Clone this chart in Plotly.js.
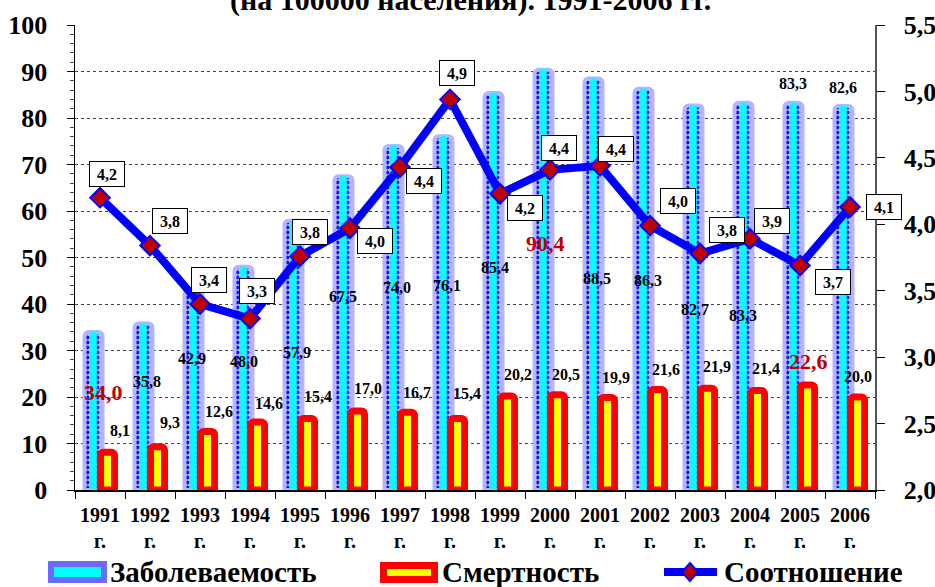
<!DOCTYPE html>
<html><head><meta charset="utf-8">
<script src="https://cdn.plot.ly/plotly-3.0.1.min.js"></script>
<style>html,body{margin:0;padding:0;background:#fff}</style>
</head><body><div id="chart" style="width:935px;height:587px"></div>
<script>
// ---- data ----
const years = ['1991','1992','1993','1994','1995','1996','1997','1998','1999','2000','2001','2002','2003','2004','2005','2006'];
const tickLabels = years.map(y => y + '<br>г.');
const incidence = [34.0,35.8,42.9,48.0,57.9,67.5,74.0,76.1,85.4,90.4,88.5,86.3,82.7,83.3,83.3,82.6];
const mortality = [8.1,9.3,12.6,14.6,15.4,17.0,16.7,15.4,20.2,20.5,19.9,21.6,21.9,21.4,22.6,20.0];
const ratio = [4.20,3.84,3.40,3.29,3.76,3.97,4.43,4.94,4.23,4.41,4.44,3.99,3.78,3.89,3.69,4.13];
const seriesNames = ['Заболеваемость','Смертность','Соотношение'];
const titleText = '(на 100000 населения). 1991-2006 гг.';
const highlightInc = ['1991','2000'];
const highlightMort = ['2005'];

// ---- label placement (pixel offsets from the mark) ----
const incDx = [3,-3,-8,-6,-3,-7,-3,-3,-5,-5,-3,-2,-5,-7,-7,-7];
const incDy = [61,58,68,95,132,120,142,149,175,174,200,192,204,213,-19,-18];
const mortDx = [20,20,19,19,18,18,17,17,18,16,16,16,17,16,8,8];
const mortDy = [-22,-24,-20,-19,-22,-22,-20,-25,-22,-20,-20,-20,-22,-22,-23,-21];
const ratDx = [7,20,9,7,10,25,24,7,25,9,16,28,27,22,33,34];
const ratDy = [-24,-25,-24,-28,-24,13,14,-26,14,-22,-17,-25,-24,-18,17,0];

const fmt = v => (Math.round(v*10)/10).toFixed(1).replace('.', ',');
const FONT = 'Liberation Serif, Times New Roman, serif';

const traces = [
  {type:'bar', x:years, y:incidence, name:seriesNames[0], width:0.36, offset:-0.31,
   marker:{color:'#c4c4ff', cornerradius:4, line:{width:4, color:'#b4b4ff'},
     pattern:{shape:'.', fgcolor:'#1010ff', bgcolor:'#c4c4ff', size:5, solidity:0.45, fillmode:'replace'}},
   hoverinfo:'skip'},
  {type:'bar', x:years, y:incidence, name:seriesNames[0]+' core', width:0.13, offset:-0.195,
   marker:{color:'#00ffff', line:{width:0}}, hoverinfo:'skip'},
  {type:'bar', x:years, y:mortality, name:seriesNames[1], width:0.28, offset:0.01,
   marker:{color:'#ffff00', cornerradius:3, line:{color:'#ff0000', width:7}}, hoverinfo:'skip'},
  {type:'scatter', mode:'lines+markers', x:years, y:ratio, yaxis:'y2', name:seriesNames[2],
   line:{color:'#0000ff', width:8},
   marker:{symbol:'diamond', size:15, color:'#c00000', line:{color:'#0000ff', width:2}}, hoverinfo:'skip'}
];

const annotations = [];
years.forEach((yr, i) => {
  const incRed = highlightInc.includes(yr);
  annotations.push({x:i, y:incidence[i], xref:'x', yref:'y', text:fmt(incidence[i]), showarrow:false,
    xshift:incDx[i], yshift:-incDy[i], xanchor:'center', yanchor:'middle',
    font:{family:FONT, size:incRed?22:16, weight:'bold', color:incRed?'#c00000':'#000'}});
  const mRed = highlightMort.includes(yr);
  annotations.push({x:i, y:mortality[i], xref:'x', yref:'y', text:fmt(mortality[i]), showarrow:false,
    xshift:mortDx[i], yshift:-mortDy[i], xanchor:'center', yanchor:'middle',
    font:{family:FONT, size:mRed?22:16, weight:'bold', color:mRed?'#c00000':'#000'}});
  annotations.push({x:i, y:ratio[i], xref:'x', yref:'y2', text:fmt(ratio[i]), showarrow:false,
    xshift:ratDx[i], yshift:-ratDy[i], xanchor:'center', yanchor:'middle',
    width:30, height:20, borderpad:2, bordercolor:'#000', borderwidth:1, bgcolor:'#fff',
    font:{family:FONT, size:16, weight:'bold', color:'#000'}});
});

// pixel -> paper helpers for the hand-drawn legend and title
const PX = p => (p - 75) / 800;
const PY = p => (490 - p) / 465;

annotations.push({xref:'paper', yref:'paper', x:PX(470), y:PY(19), xanchor:'center', yanchor:'bottom',
  text:titleText, showarrow:false, font:{family:FONT, size:30, weight:'bold', color:'#000'}});

const legendText = [[108, seriesNames[0]], [440, seriesNames[1]], [722, seriesNames[2]]];
legendText.forEach(([px, t]) => annotations.push({xref:'paper', yref:'paper', x:PX(px), y:PY(572),
  xanchor:'left', yanchor:'middle', text:t, showarrow:false,
  font:{family:FONT, size:29, weight:'bold', color:'#000'}}));

const shapes = [
  {type:'rect', xref:'paper', yref:'paper', x0:PX(48), x1:PX(107), y0:PY(583), y1:PY(561), fillcolor:'#6a6aff', line:{width:0}},
  {type:'rect', xref:'paper', yref:'paper', x0:PX(54), x1:PX(101), y0:PY(577), y1:PY(567), fillcolor:'#00ffff', line:{width:0}},
  {type:'rect', xref:'paper', yref:'paper', x0:PX(380), x1:PX(438), y0:PY(583), y1:PY(562), fillcolor:'#ff0000', line:{width:0}},
  {type:'rect', xref:'paper', yref:'paper', x0:PX(387), x1:PX(431), y0:PY(576), y1:PY(569), fillcolor:'#ffff00', line:{width:0}},
  {type:'line', xref:'paper', yref:'paper', x0:PX(664), x1:PX(717), y0:PY(572), y1:PY(572), line:{color:'#0000ff', width:8}},
  {type:'path', xref:'paper', yref:'paper',
   path:`M ${PX(690)} ${PY(563)} L ${PX(698)} ${PY(572)} L ${PX(690)} ${PY(581)} L ${PX(682)} ${PY(572)} Z`,
   fillcolor:'#c00000', line:{color:'#0000ff', width:2}}
];

const layout = {
  width:935, height:587, margin:{l:75, r:60, t:25, b:97, pad:0},
  paper_bgcolor:'#fff', plot_bgcolor:'#fff', showlegend:false, barmode:'overlay',
  separators:', ', font:{family:FONT, color:'#000'},
  xaxis:{type:'category', categoryorder:'array', categoryarray:years, range:[-0.5, years.length-0.5],
    tickvals:years, ticktext:tickLabels, ticks:'outside', tickson:'boundaries',
    ticklen:7, tickcolor:'#000', showline:true, linecolor:'#000', linewidth:1.5, showgrid:false,
    tickfont:{family:FONT, size:20, weight:'bold', color:'#000'}, ticklabelstandoff:6},
  yaxis:{range:[0,100], tick0:0, dtick:10, showgrid:true, gridcolor:'#444', griddash:'dot', gridwidth:1,
    zeroline:false, showline:true, linecolor:'#000', linewidth:1.5, ticks:'outside', ticklen:7, tickcolor:'#000',
    minor:{dtick:2, ticks:'outside', ticklen:4, tickcolor:'#444', showgrid:false},
    tickfont:{family:FONT, size:26, weight:'bold', color:'#000'}, ticklabelstandoff:14},
  yaxis2:{overlaying:'y', side:'right', range:[2,5.5], tick0:2, dtick:0.5, tickformat:'.1f', showgrid:false,
    zeroline:false, showline:true, linecolor:'#555', linewidth:1.5, ticks:'outside', ticklen:8, tickcolor:'#000',
    tickfont:{family:FONT, size:26, weight:'bold', color:'#000'}, ticklabelstandoff:14},
  annotations:annotations, shapes:shapes
};

Plotly.newPlot('chart', traces, layout, {displayModeBar:false, staticPlot:true});
</script>
</body></html>
